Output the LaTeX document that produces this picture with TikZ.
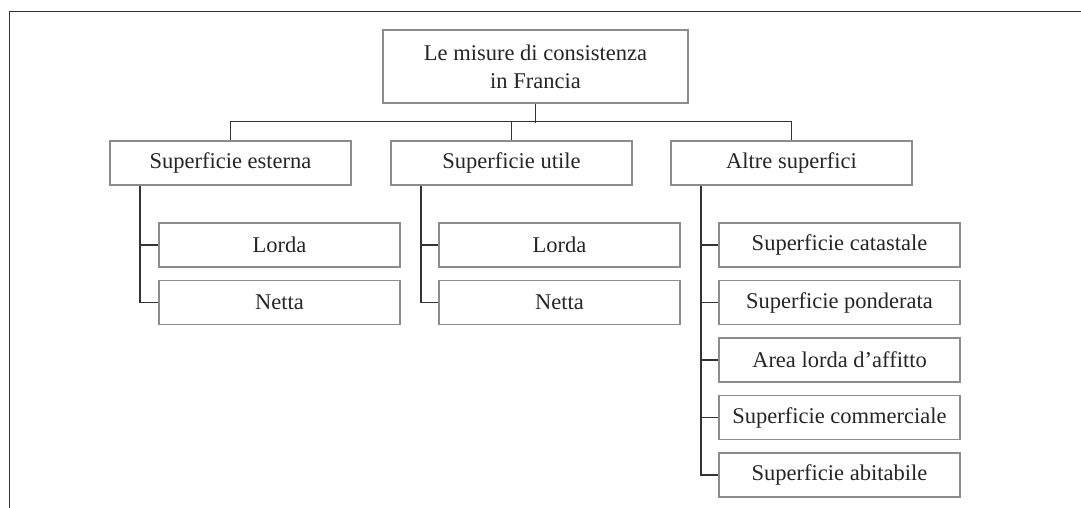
\documentclass[tikz,border=0pt]{standalone}
\usepackage{fontspec}
\setmainfont{Liberation Serif}

\begin{document}
\begin{tikzpicture}[x=1pt, y=-1pt,
    box/.style={draw=black!45, line width=1.2pt, fill=white, inner sep=0pt,
        text=black!85, font=\fontsize{22.5}{28}\selectfont},
    rootbox/.style={box, minimum width=305pt, minimum height=73pt, align=center},
    areabox/.style={box, minimum width=241pt, minimum height=44pt},
    leafbox/.style={box, minimum width=241pt, minimum height=44pt},
    link/.style={draw=black!80, line width=1.3pt}]
    \useasboundingbox (0,0) rectangle (1081,508);

    % Outer frame (top and left only)
    \draw[black!80, line width=1.5pt] (9.5,508) -- (9.5,11.5) -- (1081,11.5);

    % Root box
    \node[rootbox] (root) at (535.5,66.5) {Le misure di consistenza\\in Francia};

    % Second level
    \node[areabox] (esterna) at (230.5,163) {Superficie esterna};
    \node[areabox] (utile) at (511.5,163) {Superficie utile};
    \node[areabox] (altre) at (791.5,163) {Altre superfici};

    % Leaves under Superficie esterna
    \node[leafbox] (esterna lorda) at (279.5,245) {Lorda};
    \node[leafbox] (esterna netta) at (279.5,302.5) {Netta};

    % Leaves under Superficie utile
    \node[leafbox] (utile lorda) at (559.5,245) {Lorda};
    \node[leafbox] (utile netta) at (559.5,302.5) {Netta};

    % Leaves under Altre superfici
    \node[leafbox] (catastale) at (839.5,245) {Superficie catastale};
    \node[leafbox] (ponderata) at (839.5,302.5) {Superficie ponderata};
    \node[leafbox] (affitto) at (839.5,360) {Area lorda d'affitto};
    \node[leafbox] (commerciale) at (839.5,417.5) {Superficie commerciale};
    \node[leafbox] (abitabile) at (839.5,475) {Superficie abitabile};

    % Bus from the root
    \draw[link] (root.south) -- ++(0,19);
    \draw[link] (esterna.north) -- ++(0,-19) -| (altre.north);
    \draw[link] (utile.north) -- ++(0,-19);

    % Stems down to the leaves
    \coordinate (esterna stem) at ([xshift=-90.5pt]esterna.south);
    \coordinate (utile stem) at ([xshift=-90.5pt]utile.south);
    \coordinate (altre stem) at ([xshift=-90.5pt]altre.south);

    \draw[link] (esterna stem) |- (esterna netta.west);
    \draw[link] (esterna lorda.west) -- (esterna lorda.west -| esterna stem);

    \draw[link] (utile stem) |- (utile netta.west);
    \draw[link] (utile lorda.west) -- (utile lorda.west -| utile stem);

    \draw[link] (altre stem) |- (abitabile.west);
    \draw[link] (catastale.west) -- (catastale.west -| altre stem);
    \draw[link] (ponderata.west) -- (ponderata.west -| altre stem);
    \draw[link] (affitto.west) -- (affitto.west -| altre stem);
    \draw[link] (commerciale.west) -- (commerciale.west -| altre stem);
\end{tikzpicture}
\end{document}
